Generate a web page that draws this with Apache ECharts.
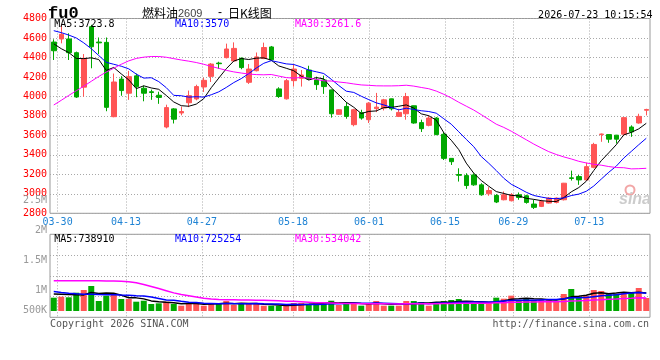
<!DOCTYPE html>
<html><head><meta charset="utf-8">
<script src="https://cdn.jsdelivr.net/npm/echarts@6/dist/echarts.min.js"></script>
<style>html,body{margin:0;padding:0;background:#fff}#c{width:660px;height:360px}</style>
</head><body><div id="c"></div>
<script>
// ---------------- data ----------------
const dates = [
 '03-27','03-30','03-31','04-01','04-02','04-03','04-07','04-08','04-09','04-10',
 '04-13','04-14','04-15','04-16','04-17','04-20','04-21','04-22','04-23','04-24',
 '04-27','04-28','04-29','04-30','05-06','05-07','05-08','05-11','05-12','05-13',
 '05-14','05-15','05-18','05-19','05-20','05-21','05-22','05-25','05-26','05-27',
 '05-28','05-29','06-01','06-02','06-03','06-04','06-05','06-08','06-09','06-10',
 '06-11','06-12','06-15','06-16','06-17','06-18','06-22','06-23','06-24','06-25',
 '06-26','06-29','06-30','07-01','07-02','07-03','07-06','07-07','07-08','07-09',
 '07-10','07-13','07-14','07-15','07-16','07-17','07-20','07-21','07-22','07-23'];
const labelDates = ['03-30','04-13','04-27','05-18','06-01','06-15','06-29','07-13'];

const opens = [
 4558,4590,4590,4449,4095,4716,4558,4555,3792,4178,
 4033,4211,4084,4048,4012,3686,3872,3830,3935,3974,
 4097,4206,4342,4398,4364,4392,4145,4264,4389,4508,
 4077,3975,4162,4186,4271,4169,4169,4067,3816,3897,
 3710,3833,3761,3875,3880,3975,3795,3822,3904,3731,
 3703,3778,3611,3364,3198,3187,3194,3092,3000,2983,
 2939,2929,2990,2980,2895,2871,2905,2912,2939,3164,
 3177,3143,3272,3608,3608,3602,3612,3686,3727,3858];
const closes = [
 4469,4638,4449,3994,4391,4510,4550,3888,4148,4060,
 4203,4101,4033,4040,3990,3885,3766,3845,4008,4101,
 4165,4332,4336,4487,4493,4296,4281,4406,4502,4376,
 3999,4162,4281,4220,4179,4121,4101,3822,3863,3795,
 3863,3778,3931,3890,3965,3873,3836,3999,3727,3669,
 3778,3608,3364,3330,3190,3085,3092,2990,3034,2916,
 2990,2990,2963,2912,2861,2922,2956,2956,3109,3158,
 3143,3279,3507,3614,3561,3561,3782,3636,3795,3866];
const lows = [
 4374,4545,4374,3985,3997,4289,4435,3848,3786,4007,
 3965,3992,3950,3965,3924,3672,3722,3806,3890,3960,
 4046,4148,4283,4390,4355,4279,4128,4257,4383,4366,
 3985,3968,4101,4101,4169,4067,4026,3782,3812,3771,
 3693,3761,3727,3839,3856,3856,3788,3761,3720,3635,
 3693,3602,3347,3296,3126,3051,3082,2980,2980,2905,
 2933,2922,2939,2899,2844,2864,2900,2902,2932,3136,
 3092,3136,3262,3534,3524,3517,3592,3585,3720,3805];
const highs = [
 4586,4740,4648,4460,4435,4735,4605,4605,4235,4208,
 4262,4234,4111,4070,4048,3915,3880,3895,4060,4120,
 4192,4342,4356,4542,4555,4400,4332,4451,4552,4518,
 4094,4179,4332,4271,4315,4203,4213,4070,3870,3941,
 3873,3863,3941,4036,3975,3978,3873,4036,3906,3761,
 3805,3788,3635,3366,3262,3211,3211,3109,3068,2997,
 3024,3007,3014,2990,2939,2939,2965,2963,3112,3238,
 3194,3320,3524,3619,3612,3605,3785,3703,3822,3873];

const ma5 = [
 4540,4490,4450,4390,4388,4396,4379,4267,4297,4231,
 4170,4080,4109,4087,4073,4010,3943,3905,3899,3921,
 3977,4090,4188,4284,4363,4389,4379,4393,4396,4372,
 4313,4289,4264,4208,4168,4193,4180,4089,4017,3940,
 3889,3824,3846,3851,3885,3887,3899,3913,3880,3821,
 3802,3756,3629,3550,3454,3315,3212,3137,3078,3023,
 3004,2984,2979,2954,2943,2930,2923,2921,2961,3020,
 3064,3129,3239,3340,3421,3504,3605,3631,3667,3724];
const ma10 = [
 4675,4655,4630,4600,4550,4490,4420,4350,4330,4310,
 4283,4229,4188,4192,4152,4090,4011,4007,3993,3997,
 3993,4017,4047,4092,4142,4183,4234,4291,4340,4367,
 4351,4334,4328,4302,4270,4253,4235,4176,4112,4054,
 4041,4002,3967,3934,3913,3888,3862,3879,3866,3853,
 3845,3828,3771,3715,3637,3559,3484,3383,3314,3239,
 3160,3098,3058,3016,2983,2967,2953,2950,2958,2982,
 2997,3026,3080,3151,3221,3284,3367,3435,3504,3570];
const ma30 = [
 3912,3960,4010,4058,4105,4155,4205,4250,4290,4330,
 4365,4390,4403,4410,4410,4402,4388,4374,4362,4348,
 4330,4308,4288,4268,4252,4240,4230,4224,4222,4225,
 4209,4193,4188,4195,4188,4175,4160,4158,4148,4140,
 4128,4118,4114,4109,4108,4108,4110,4115,4106,4092,
 4079,4055,4022,3984,3940,3900,3860,3813,3764,3715,
 3682,3643,3599,3555,3511,3471,3433,3404,3379,3358,
 3334,3317,3303,3294,3280,3270,3268,3256,3258,3262];

const volumes = [
 543000,584000,559000,747000,857000,1020000,408000,624000,694000,490000,
 490000,380000,420000,286000,314000,380000,286000,216000,327000,327000,
 216000,327000,286000,408000,245000,327000,286000,286000,216000,216000,
 216000,204000,327000,327000,286000,327000,367000,420000,245000,327000,
 327000,218000,327000,408000,218000,218000,218000,408000,408000,367000,
 218000,367000,408000,449000,490000,286000,286000,367000,367000,544000,
 503000,626000,449000,490000,449000,449000,449000,395000,694000,898000,
 558000,612000,857000,816000,694000,694000,776000,735000,939000,531000];
const volMa5 = [
 690000,680000,670000,660000,658000,753000,718000,731000,721000,647000,
 541000,536000,495000,413000,378000,356000,337000,296000,305000,307000,
 274000,283000,297000,313000,296000,319000,310000,310000,272000,266000,
 244000,228000,236000,258000,272000,294000,327000,345000,329000,337000,
 337000,307000,289000,321000,300000,278000,278000,294000,294000,324000,
 324000,354000,354000,362000,386000,400000,384000,376000,359000,370000,
 413000,481000,498000,522000,503000,493000,457000,446000,487000,577000,
 599000,642000,724000,748000,707000,735000,767000,743000,768000,739000];
const volMa10 = [
 800000,760000,725000,700000,685000,680000,670000,665000,660000,653000,
 647000,627000,613000,567000,513000,449000,436000,396000,359000,343000,
 315000,310000,297000,309000,302000,297000,297000,304000,292000,281000,
 281000,269000,273000,265000,269000,269000,277000,291000,294000,305000,
 316000,317000,317000,325000,318000,308000,293000,291000,308000,312000,
 301000,316000,324000,328000,355000,362000,369000,365000,361000,378000,
 407000,433000,437000,441000,437000,453000,469000,473000,505000,540000,
 546000,550000,585000,618000,642000,667000,705000,733000,758000,725000];
const volMa30 = [
 1240000,1240000,1240000,1240000,1235000,1230000,1230000,1225000,1220000,1210000,
 1190000,1150000,1080000,1000000,920000,830000,740000,670000,620000,570000,
 520000,490000,470000,460000,455000,450000,445000,440000,435000,426000,
 415000,402000,394000,380000,361000,338000,337000,330000,315000,310000,
 304000,299000,296000,300000,296000,291000,289000,295000,298000,299000,
 299000,301000,305000,306000,314000,313000,313000,316000,321000,332000,
 341000,355000,359000,365000,370000,374000,377000,376000,391000,410000,
 418000,431000,448000,462000,478000,494000,512000,523000,541000,534000];

const priceTicks = [2800,3000,3200,3400,3600,3800,4000,4200,4400,4600,4800];
const volTickValues = [500000,1000000,1500000,2000000,2500000];
const volTickLabels = ['500K','1M','1.5M','2M','2.5M'];
const maTexts = ['MA5:3723.8','MA10:3570','MA30:3261.6'];
const volMaTexts = ['MA5:738910','MA10:725254','MA30:534042'];

// ---------------- styles ----------------
const RED = '#ff5555', GREEN = '#00a800';
const MONO = "'DejaVu Sans Mono', monospace";
const GRIDC = '#a8a8a8';
const isLabel = (i, v) => labelDates.indexOf(v) >= 0;
const volLabel = v => { const i = volTickValues.indexOf(v); return i >= 0 ? volTickLabels[i] : ''; };

const chart = echarts.init(document.getElementById('c'), null, {renderer: 'canvas', width: 660, height: 360});

function txt(x, y, text, fill, font, align) {
  return {type: 'text', x: x, y: y, z: 100,
    style: {text: text, fill: fill, font: font, textAlign: align || 'left', align: align || 'left',
            textVerticalAlign: 'middle', verticalAlign: 'middle'}};
}
const maColors = ['#000000', '#0000ff', '#ff00ff'];
const hdrX = [54.3, 175, 295];

const graphics = [
  txt(48, 14, 'fu0', '#000', "bold 17px 'Liberation Mono', monospace"),
  txt(142, 13, '燃料油', '#000', "12px 'Noto Sans CJK SC'"),
  txt(178, 13.5, '2609', '#444', "11px 'Liberation Sans'"),
  txt(218, 13, '-', '#000', "12px 'Liberation Sans'"),
  txt(228, 13, '日K线图', '#000', "12px 'Noto Sans CJK SC'"),
  txt(652.5, 15.5, '2026-07-23 10:15:54', '#000', "10px " + MONO, 'right'),
  txt(50, 324, 'Copyright 2026 SINA.COM', '#555', "10px " + MONO),
  txt(649, 324, 'http://finance.sina.com.cn', '#555', "10px " + MONO, 'right'),
  {type: 'circle', z: 5, shape: {cx: 630, cy: 190, r: 4.5}, style: {fill: 'rgba(0,0,0,0)', stroke: '#f2a6a6', lineWidth: 2}},
  txt(619, 200, 'sina', '#cccccc', "italic bold 16px 'Liberation Sans'")
];
maTexts.forEach((t, i) => graphics.push(txt(hdrX[i], 24.5, t, maColors[i], "10px " + MONO)));
volMaTexts.forEach((t, i) => graphics.push(txt(hdrX[i], 239, t, maColors[i], "10px " + MONO)));

const dotted = {color: GRIDC, type: [1, 2], width: 1};

const option = {
  animation: false,
  backgroundColor: '#ffffff',
  grid: [
    {left: 50, top: 18.5, width: 600, height: 194.8, show: true, borderColor: '#999', borderWidth: 1, backgroundColor: 'rgba(0,0,0,0)'},
    {left: 50, top: 234.3, width: 600, height: 83, show: true, borderColor: '#999', borderWidth: 1, backgroundColor: 'rgba(0,0,0,0)'},
    {left: 50, top: 200, width: 600, height: 90},
    {left: 50, top: 300, width: 600, height: 10}
  ],
  xAxis: [
    {type: 'category', gridIndex: 0, data: dates, boundaryGap: true, show: false, position: 'bottom'},
    {type: 'category', gridIndex: 0, data: dates, boundaryGap: false, position: 'bottom',
      axisLine: {show: false}, axisTick: {show: false},
      axisLabel: {interval: isLabel, color: '#1f83d4', fontFamily: MONO, fontSize: 10, margin: 4},
      splitLine: {show: true, interval: isLabel, lineStyle: dotted}},
    {type: 'category', gridIndex: 1, data: dates, boundaryGap: true, show: false, position: 'bottom'},
    {type: 'category', gridIndex: 1, data: dates, boundaryGap: false, position: 'bottom',
      axisLine: {show: false}, axisTick: {show: false}, axisLabel: {show: false},
      splitLine: {show: true, interval: isLabel, lineStyle: dotted}},
    {type: 'category', gridIndex: 2, data: dates, show: false},
    {type: 'category', gridIndex: 3, data: dates, show: false}
  ],
  yAxis: [
    {type: 'value', gridIndex: 0, min: priceTicks[0], max: priceTicks[priceTicks.length - 1], interval: priceTicks[1] - priceTicks[0],
      axisLine: {show: false}, axisTick: {show: false},
      axisLabel: {formatter: v => String(v), color: '#ff0000', fontFamily: MONO, fontSize: 10, margin: 3, padding: [0, 0, 2, 0]},
      splitLine: {show: true, lineStyle: dotted}},
    {type: 'value', gridIndex: 1, min: -257000, max: 3131000, show: false, splitLine: {show: false}},
    {type: 'value', gridIndex: 1, min: 0, max: 4, interval: 1, position: 'left',
      axisLine: {show: false}, axisTick: {show: false}, axisLabel: {show: false},
      splitLine: {show: true, lineStyle: dotted}},
    {type: 'value', gridIndex: 2, min: volTickValues[1], max: volTickValues[4], interval: volTickValues[2] - volTickValues[1],
      axisLine: {show: false}, axisTick: {show: false}, splitLine: {show: false},
      axisLabel: {formatter: volLabel, color: '#999', fontFamily: MONO, fontSize: 10, margin: 3}},
    {type: 'value', gridIndex: 3, min: volTickValues[0], max: volTickValues[0] + 100000, interval: 100000,
      axisLine: {show: false}, axisTick: {show: false}, splitLine: {show: false},
      axisLabel: {formatter: volLabel, color: '#999', fontFamily: MONO, fontSize: 10, margin: 3}}
  ],
  series: [
    {type: 'candlestick', xAxisIndex: 0, yAxisIndex: 0, barWidth: 5,
      data: dates.map((d, i) => [opens[i], closes[i], lows[i], highs[i]]),
      itemStyle: {color: RED, color0: GREEN, borderColor: RED, borderColor0: GREEN, borderWidth: 1}},
    {type: 'line', xAxisIndex: 0, yAxisIndex: 0, data: ma5, symbol: 'none', lineStyle: {color: '#000', width: 1}},
    {type: 'line', xAxisIndex: 0, yAxisIndex: 0, data: ma10, symbol: 'none', lineStyle: {color: '#0000ff', width: 1}},
    {type: 'line', xAxisIndex: 0, yAxisIndex: 0, data: ma30, symbol: 'none', lineStyle: {color: '#ff00ff', width: 1}},
    {type: 'bar', xAxisIndex: 2, yAxisIndex: 1, barWidth: 6,
      data: volumes.map((v, i) => ({value: v, itemStyle: {color: closes[i] >= opens[i] ? RED : GREEN}}))},
    {type: 'line', xAxisIndex: 2, yAxisIndex: 1, data: volMa5, symbol: 'none', lineStyle: {color: '#000', width: 1.5}},
    {type: 'line', xAxisIndex: 2, yAxisIndex: 1, data: volMa10, symbol: 'none', lineStyle: {color: '#0000ff', width: 1.5}},
    {type: 'line', xAxisIndex: 2, yAxisIndex: 1, data: volMa30, symbol: 'none', lineStyle: {color: '#ff00ff', width: 1.5}}
  ],
  graphic: graphics
};
chart.setOption(option);
</script>
</body></html>
